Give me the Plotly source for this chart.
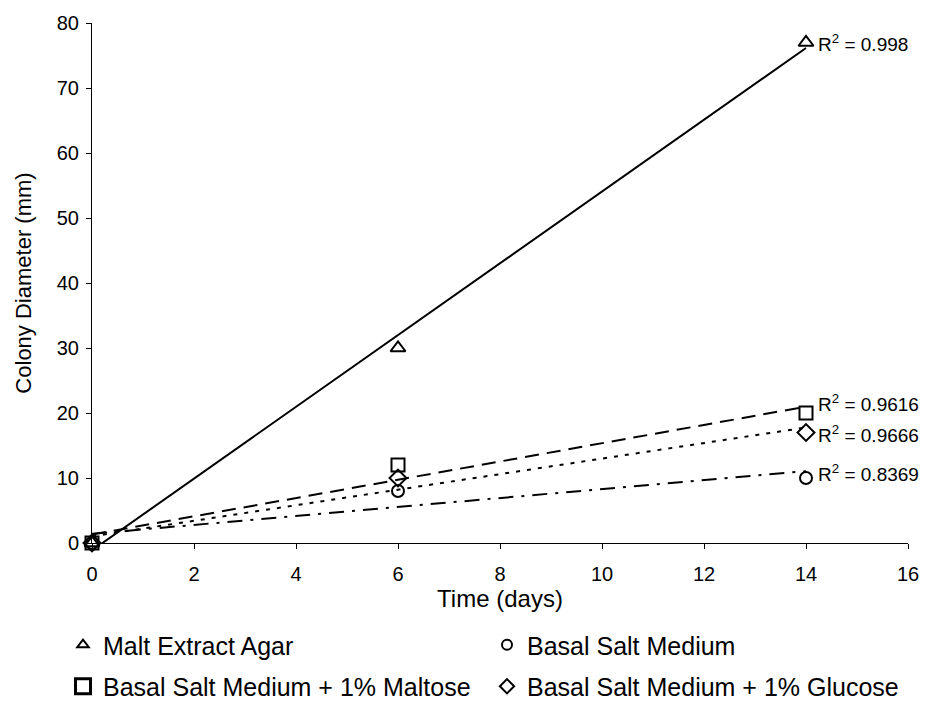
import numpy as np
import plotly.graph_objects as go

# Colony diameter (mm) measured on days 0, 6 and 14
days = [0, 6, 14]
malt_extract_agar = [0, 30, 77]
basal_salt = [0, 8, 10]
basal_maltose = [0, 12, 20]
basal_glucose = [0, 10, 17]

series_names = [
    "Malt Extract Agar",
    "Basal Salt Medium",
    "Basal Salt Medium + 1% Maltose",
    "Basal Salt Medium + 1% Glucose",
]
r2_labels = ["0.998", "0.8369", "0.9616", "0.9666"]

x_ticks = [0, 2, 4, 6, 8, 10, 12, 14, 16]
y_ticks = [0, 10, 20, 30, 40, 50, 60, 70, 80]

FONT = "Liberation Sans, Arial, sans-serif"

series = [malt_extract_agar, basal_salt, basal_maltose, basal_glucose]
symbols = ["triangle-up-open", "circle-open", "square-open", "diamond-open"]
marker_sizes = [13, 12, 13, 13]
legend_sizes = [10, 10, 15, 11]
legend_widths = [2, 2, 3, 2]
dashes = ["solid", "15px,8px,3px,8px", "14px,8px", "4px,7px"]
label_shift = [0, 5, 10, -1]
legend_of = ["legend", "legend2", "legend", "legend2"]

fig = go.Figure()

for name, ys, sym, msz, dash, lab, shift in zip(
    series_names, series, symbols, marker_sizes, dashes, r2_labels, label_shift
):
    # linear trend line fitted to the measurements
    slope, intercept = np.polyfit(days, ys, 1)
    fx = [days[0], days[-1]]
    fy = [float(slope * v + intercept) for v in fx]
    fig.add_trace(go.Scatter(
        x=fx, y=fy, mode="lines",
        line=dict(color="black", width=2, dash=dash),
        showlegend=False, hoverinfo="skip", cliponaxis=False,
    ))
    fig.add_trace(go.Scatter(
        x=days, y=ys, mode="markers", name=name,
        marker=dict(symbol=sym, size=msz, color="black",
                    line=dict(color="black", width=2)),
        showlegend=False, cliponaxis=False,
    ))
    fig.add_annotation(
        x=days[-1], y=ys[-1], text=f"R<sup>2</sup> = {lab}",
        showarrow=False, xanchor="left", yanchor="middle",
        xshift=10, yshift=shift,
        font=dict(family=FONT, size=19, color="black"),
    )

# legend entries (two columns, two rows)
for name, sym, lsz, lw, leg in zip(series_names, symbols, legend_sizes,
                                   legend_widths, legend_of):
    fig.add_trace(go.Scatter(
        x=[None], y=[None], mode="markers", name=name,
        marker=dict(symbol=sym, size=lsz, color="black",
                    line=dict(color="black", width=lw)),
        legend=leg, legendgroup=name, showlegend=True,
    ))

axis_common = dict(
    type="linear",
    showgrid=False, zeroline=False, showline=True, linecolor="black",
    linewidth=1, ticks="outside", ticklen=5, tickcolor="black",
    tickfont=dict(family=FONT, size=20, color="black"),
)

legend_common = dict(
    orientation="v", xref="paper", yref="container",
    xanchor="left", yanchor="top", traceorder="grouped",
    tracegroupgap=6, bgcolor="rgba(0,0,0,0)",
    font=dict(family=FONT, size=25, color="black"),
)

PLOT_L, PLOT_W = 92, 816

fig.update_layout(
    width=931, height=702,
    margin=dict(l=PLOT_L, r=23, t=21, b=159),
    paper_bgcolor="white", plot_bgcolor="white",
    font=dict(family=FONT, color="black"),
    xaxis=dict(
        range=[0, 16], tickvals=x_ticks, ticklabelstandoff=8,
        title=dict(text="Time (days)", standoff=5,
                   font=dict(family=FONT, size=24, color="black")),
        **axis_common,
    ),
    yaxis=dict(
        range=[0, 80], tickvals=y_ticks, ticklabelstandoff=3,
        title=dict(text="Colony Diameter (mm)", standoff=19,
                   font=dict(family=FONT, size=22, color="black")),
        **axis_common,
    ),
    legend=dict(x=(63 - PLOT_L) / PLOT_W, y=1 - 622 / 702, **legend_common),
    legend2=dict(x=(487 - PLOT_L) / PLOT_W, y=1 - 622 / 702, **legend_common),
)

fig.write_html("out.html")
